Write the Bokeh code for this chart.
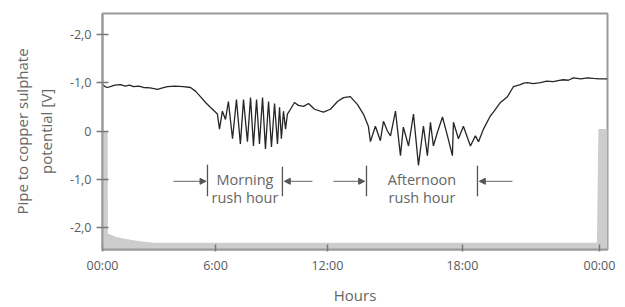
from bokeh.plotting import figure
from bokeh.models import Range1d, FixedTicker, Arrow, NormalHead
from bokeh.core.properties import value
from bokeh.embed import file_html
from bokeh.resources import INLINE

# --- data ---
t = [0.00, 0.12, 0.24, 0.45, 0.60, 0.87, 1.10, 1.30, 1.50, 1.75, 1.98, 2.30, 2.66, 2.90, 3.14, 3.50,
     3.91, 4.25, 4.50, 4.73, 5.00, 5.21, 5.55,
     5.65, 5.79, 5.94, 6.08, 6.28, 6.47, 6.66, 6.81, 7.00, 7.15, 7.29, 7.44, 7.58, 7.73, 7.87, 8.02,
     8.16, 8.31, 8.45, 8.55, 8.64, 8.74, 8.84, 8.93, 9.08, 9.27, 9.46, 9.71, 9.95, 10.24, 10.67,
     11.01, 11.35, 11.64, 11.97, 12.31, 12.60, 12.84,
     12.94, 13.18, 13.42, 13.57, 13.76, 13.91, 14.15, 14.39, 14.53, 14.78, 15.02, 15.26, 15.50,
     15.69, 15.84, 15.98, 16.18, 16.42, 16.66, 16.90, 16.95, 17.19, 17.43, 17.77, 18.01, 18.16,
     18.40, 18.73, 18.88, 19.22, 19.56, 19.85, 20.18, 20.35, 20.52, 20.80, 21.15, 21.45, 21.78,
     22.00, 22.26, 22.50, 22.74, 23.10, 23.42, 23.70, 24.00, 24.38]
potential = [-0.96, -0.92, -0.90, -0.93, -0.95, -0.96, -0.93, -0.95, -0.92, -0.93, -0.90, -0.89,
             -0.86, -0.89, -0.92, -0.93, -0.92, -0.90, -0.82, -0.71, -0.58, -0.49, -0.35,
             -0.04, -0.41, -0.24, -0.61, 0.16, -0.65, 0.27, -0.65, 0.22, -0.69, 0.31, -0.65, 0.27,
             -0.69, 0.37, -0.61, 0.33, -0.57, 0.27, -0.49, 0.16, -0.41, -0.04, -0.35, -0.45, -0.59,
             -0.53, -0.51, -0.57, -0.45, -0.39, -0.45, -0.61, -0.69, -0.71, -0.55, -0.35, -0.10,
             0.22, -0.10, 0.20, -0.20, 0.00, 0.10, -0.41, 0.51, -0.08, 0.31, -0.35, 0.71, -0.10,
             0.51, -0.18, 0.31, 0.02, -0.29, 0.10, 0.51, -0.18, 0.16, -0.10, 0.31, 0.10, 0.22,
             -0.04, -0.31, -0.39, -0.59, -0.71, -0.92, -0.96, -0.99, -1.00, -0.98, -1.00, -1.03,
             -1.02, -1.04, -1.06, -1.05, -1.10, -1.08, -1.10, -1.09, -1.08, -1.08]

shade_t = [0.00, 0.25, 0.26, 0.60, 1.00, 1.50, 2.00, 2.50, 3.00, 23.88, 23.95, 24.39]
shade_v = [0.02, 0.02, 2.12, 2.18, 2.22, 2.26, 2.29, 2.31, 2.31, 2.31, -0.04, -0.04]

x_tick_pos = [0, 5.46, 10.86, 17.38, 24]
x_tick_labels = ["00:00", "6:00", "12:00", "18:00", "00:00"]
y_ticks = [-2, -1, 0, 1, 2]
y_tick_labels = ["-2,0", "-1,0", "0", "-1,0", "-2,0"]

FONT = "Open Sans"
AX = "#9a9a9a"
TXT = "#5a5a5a"

p = figure(width=622, height=307, output_backend="svg", toolbar_location=None,
           x_range=Range1d(0, 24.39), y_range=Range1d(2.45, -2.43),
           min_border_left=102, min_border_right=15, min_border_top=13, min_border_bottom=55)
p.background_fill_color = "white"
p.border_fill_color = "white"
p.outline_line_color = AX
p.outline_line_width = 2
p.grid.visible = False

# shaded area at the bottom
p.varea(x=shade_t, y1=shade_v, y2=[2.45] * len(shade_t), fill_color="#cdcdcd", fill_alpha=1)

# potential line
p.line(t, potential, line_color="#262626", line_width=1.3)

# rush hour annotations
bars = [(5.07, 0.70, 1.35), (8.69, 0.74, 1.35), (12.75, 0.72, 1.35), (18.11, 0.72, 1.35)]
p.segment(x0=[b[0] for b in bars], y0=[b[1] for b in bars], x1=[b[0] for b in bars],
          y1=[b[2] for b in bars], line_color="#555555", line_width=1.3)
arrows = [(3.43, 5.0), (10.14, 8.78), (11.15, 12.66), (19.80, 18.20)]
for xs, xe in arrows:
    p.add_layout(Arrow(end=NormalHead(size=6, fill_color="#555555", line_color="#555555"),
                       x_start=xs, y_start=1.04, x_end=xe, y_end=1.04,
                       line_color="#666666", line_width=1))
p.text(x=[6.88, 6.88, 15.43, 15.43], y=[1.0, 1.37, 1.0, 1.37],
       text=["Morning", "rush hour", "Afternoon", "rush hour"],
       text_align="center", text_baseline="middle", text_font=value(FONT),
       text_font_size="14.5px", text_color="#666666")

# axes
p.xaxis.ticker = FixedTicker(ticks=x_tick_pos)
p.xaxis.major_label_overrides = {x_tick_pos[i]: x_tick_labels[i] for i in range(len(x_tick_pos))}
p.yaxis.ticker = FixedTicker(ticks=y_ticks)
p.yaxis.major_label_overrides = {y_ticks[i]: y_tick_labels[i] for i in range(len(y_ticks))}
p.xaxis.axis_label = "Hours"
p.yaxis.axis_label = "Pipe to copper sulphate\npotential [V]"
for ax in (p.xaxis, p.yaxis):
    ax.axis_line_color = AX
    ax.axis_line_width = 2
    ax.major_tick_line_color = "#777777"
    ax.major_tick_line_width = 1.5
    ax.minor_tick_line_color = None
    ax.major_label_text_font = FONT
    ax.major_label_text_font_size = "12.5px"
    ax.major_label_text_color = TXT
    ax.axis_label_text_font = FONT
    ax.axis_label_text_font_size = "15px"
    ax.axis_label_text_font_style = "normal"
    ax.axis_label_text_color = "#666666"
p.yaxis.major_tick_in = 6
p.yaxis.major_tick_out = 6
p.xaxis.major_tick_in = 5
p.xaxis.major_tick_out = 2
p.xaxis.major_label_standoff = 5
p.xaxis.axis_label_standoff = 8
p.yaxis.major_label_standoff = 5
p.yaxis.axis_label_standoff = 11

open("out.html", "w").write(file_html(p, INLINE))
